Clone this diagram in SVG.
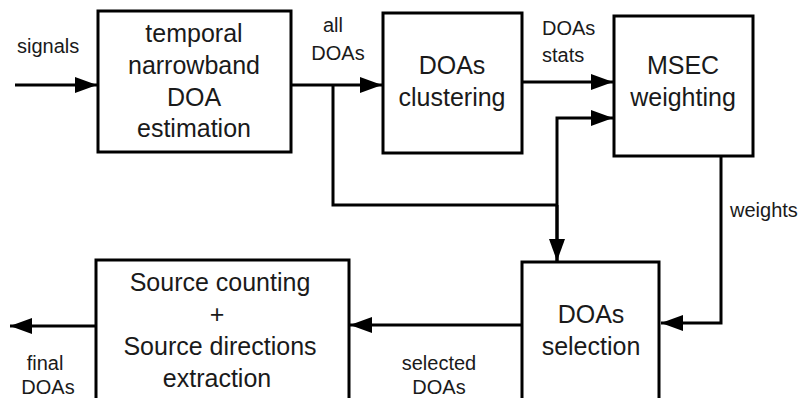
<svg xmlns="http://www.w3.org/2000/svg" width="800" height="398" viewBox="0 0 800 398">
<style>
.box{fill:#fff;stroke:#000;stroke-width:3}
.ln{fill:none;stroke:#000;stroke-width:3}
.t{font-family:"Liberation Sans",Arial,sans-serif;font-size:25px;fill:#1a1a1a;text-anchor:middle}
.l{font-family:"Liberation Sans",Arial,sans-serif;font-size:20px;fill:#1a1a1a}
</style>
<defs>
<marker id="ah" markerUnits="userSpaceOnUse" markerWidth="24" markerHeight="18" refX="22" refY="8" orient="auto">
<path d="M0,0 L22,8 L0,16 Z" fill="#000"/>
</marker>
</defs>
<g id="n1">
<rect class="box" x="98" y="11" width="193" height="141"/>
<text class="t" x="194" y="42">temporal</text>
<text class="t" x="194" y="74">narrowband</text>
<text class="t" x="194" y="106">DOA</text>
<text class="t" x="194" y="137">estimation</text>
</g>
<g id="n2">
<rect class="box" x="383" y="13" width="139" height="140"/>
<text class="t" x="452" y="74">DOAs</text>
<text class="t" x="452" y="106">clustering</text>
</g>
<g id="n3">
<rect class="box" x="614" y="16" width="139" height="140"/>
<text class="t" x="683" y="74">MSEC</text>
<text class="t" x="683" y="106">weighting</text>
</g>
<g id="n4">
<rect class="box" x="522" y="262" width="137" height="150"/>
<text class="t" x="591" y="323">DOAs</text>
<text class="t" x="591" y="355">selection</text>
</g>
<g id="n5">
<rect class="box" x="96" y="260" width="253" height="152"/>
<text class="t" x="220" y="291">Source counting</text>
<text class="t" x="217" y="323">+</text>
<text class="t" x="220" y="355">Source directions</text>
<text class="t" x="217" y="387">extraction</text>
</g>
<g id="connectors">
<path class="ln" d="M15,85 H97" marker-end="url(#ah)"/>
<path class="ln" d="M291,85 H382" marker-end="url(#ah)"/>
<path class="ln" d="M333,85 V205 H557"/>
<path class="ln" d="M557,262 V118 H613" marker-end="url(#ah)"/>
<path class="ln" d="M557,205 V261" marker-end="url(#ah)"/>
<path class="ln" d="M522,82 H613" marker-end="url(#ah)"/>
<path class="ln" d="M721,156 V323 H661" marker-end="url(#ah)"/>
<path class="ln" d="M522,325 H350" marker-end="url(#ah)"/>
<path class="ln" d="M96,326 H10" marker-end="url(#ah)"/>
</g>
<g id="labels">
<text class="l" x="17" y="53">signals</text>
<text class="l" x="333" y="32" text-anchor="middle">all</text>
<text class="l" x="338" y="60" text-anchor="middle">DOAs</text>
<text class="l" x="542" y="35">DOAs</text>
<text class="l" x="542" y="62">stats</text>
<text class="l" x="730" y="217">weights</text>
<text class="l" x="439" y="370" text-anchor="middle">selected</text>
<text class="l" x="439" y="394" text-anchor="middle">DOAs</text>
<text class="l" x="45" y="370" text-anchor="middle">final</text>
<text class="l" x="48" y="394" text-anchor="middle">DOAs</text>
</g>
</svg>
